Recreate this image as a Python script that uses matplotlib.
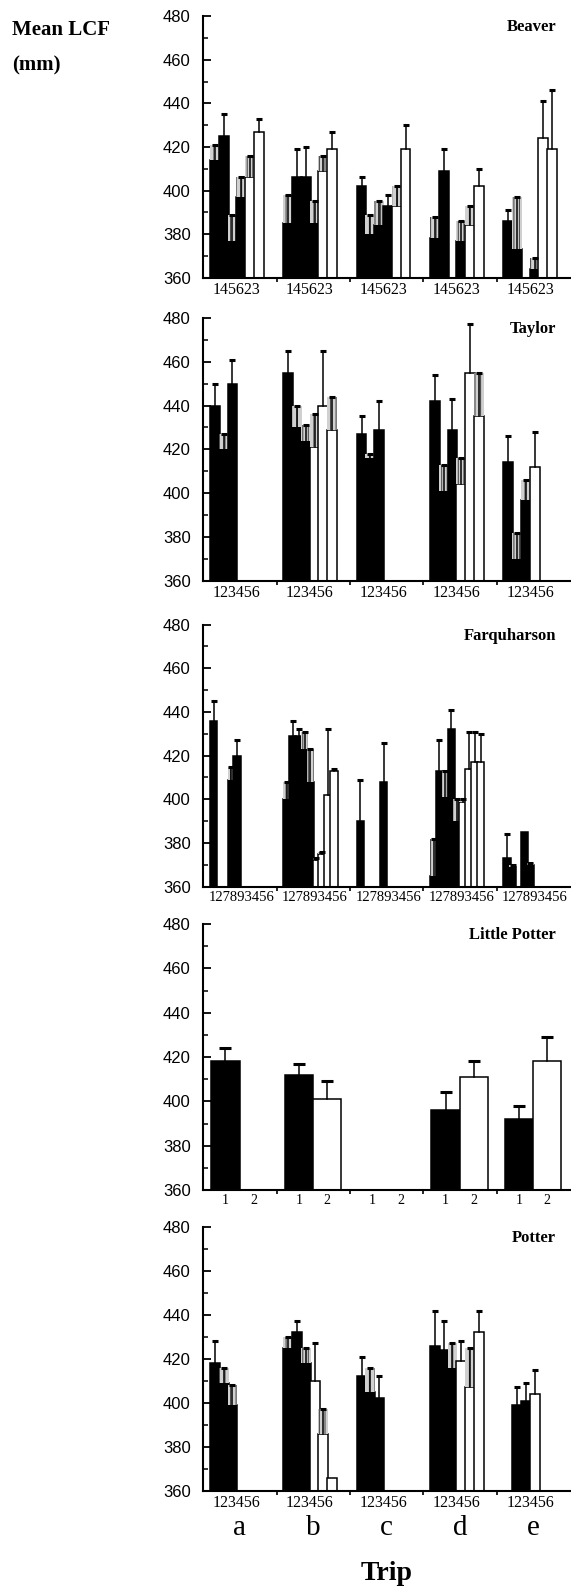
import numpy as np
import matplotlib.pyplot as plt
from matplotlib.ticker import MultipleLocator, FixedLocator
import matplotlib.transforms as mtransforms

trips = ['a', 'b', 'c', 'd', 'e']

# site order and bar fill for each lake
beaver_sites = ['1', '4', '5', '6', '2', '3']
beaver_fill = ['black', 'black', 'black', 'black', 'white', 'white']
beaver_mean = [
    [414, 425, 377, 397, 406, 427],
    [385, 406, 406, 385, 409, 419],
    [402, 380, 384, 393, 393, 419],
    [378, 409, None, 377, 384, 402],
    [386, 373, None, 364, 424, 419],
]
beaver_upper = [
    [421, 435, 389, 406, 416, 433],
    [398, 419, 420, 395, 416, 427],
    [406, 389, 395, 398, 402, 430],
    [388, 419, None, 386, 393, 410],
    [391, 397, None, 369, 441, 446],
]

taylor_sites = ['1', '2', '3', '4', '5', '6']
taylor_fill = ['black', 'black', 'black', 'white', 'white', 'white']
taylor_mean = [
    [440, 420, 450, None, None, None],
    [455, 430, 424, 421, 440, 429],
    [427, 416, 429, None, None, None],
    [442, 401, 429, 404, 455, 435],
    [414, 370, 397, 412, None, None],
]
taylor_upper = [
    [450, 427, 461, None, None, None],
    [465, 440, 431, 436, 465, 444],
    [435, 418, 442, None, None, None],
    [454, 413, 443, 416, 477, 455],
    [426, 382, 406, 428, None, None],
]

farq_sites = ['1', '2', '7', '8', '9', '3', '4', '5', '6']
farq_fill = ['black'] * 5 + ['white'] * 4
farq_mean = [
    [436, None, None, 409, 420, None, None, None, None],
    [400, 429, 429, 423, 408, 372, 375, 402, 413],
    [390, None, None, None, 408, None, None, None, None],
    [365, 413, 401, 432, 390, 399, 414, 417, 417],
    [373, 369, None, 385, 370, None, None, None, None],
]
farq_upper = [
    [445, None, None, 415, 427, None, None, None, None],
    [408, 436, 432, 431, 423, 373, 376, 432, 414],
    [409, None, None, None, 426, None, None, None, None],
    [382, 427, 413, 441, 400, 400, 431, 431, 430],
    [384, 370, None, 385, 371, None, None, None, None],
]

lp_sites = ['1', '2']
lp_fill = ['black', 'white']
lp_mean = [[418, None], [412, 401], [None, None], [396, 411], [392, 418]]
lp_upper = [[424, None], [417, 409], [None, None], [404, 418], [398, 429]]

potter_sites = ['1', '2', '3', '4', '5', '6']
potter_fill = ['black', 'black', 'black', 'white', 'white', 'white']
potter_mean = [
    [418, 409, 399, None, None, None],
    [425, 432, 418, 410, 386, 366],
    [412, 405, 402, None, None, None],
    [426, 424, 416, 419, 407, 432],
    [None, 399, 401, 404, None, None],
]
potter_upper = [
    [428, 416, 408, None, None, None],
    [430, 437, 425, 427, 397, 366],
    [421, 416, 412, None, None, None],
    [442, 437, 427, 428, 425, 442],
    [None, 407, 409, 415, None, None],
]

panels = [
    ('Beaver', beaver_sites, beaver_fill, beaver_mean, beaver_upper),
    ('Taylor', taylor_sites, taylor_fill, taylor_mean, taylor_upper),
    ('Farquharson', farq_sites, farq_fill, farq_mean, farq_upper),
    ('Little Potter', lp_sites, lp_fill, lp_mean, lp_upper),
    ('Potter', potter_sites, potter_fill, potter_mean, potter_upper),
]

# bar placement inside each trip block: offset, spacing, width, label centre, label size, cap size
slot_layout = {
    6: dict(off=0.09, sp=0.12, w=0.135, lab=0.455, fs=11.5, cap=4),
    9: dict(off=0.09, sp=0.08, w=0.10, lab=0.52, fs=10.5, cap=4),
    2: dict(off=0.11, sp=0.385, w=0.385, lab=None, fs=10, cap=9),
}

W, H = 571, 1594
# axes top / bottom in pixels
rows = [(16.2, 277.7), (317.9, 580.7), (624.6, 886.7), (924.0, 1190.0), (1227.0, 1490.7)]
left_px, width_px = 203.3, 366.7

plt.rcParams['font.family'] = 'Liberation Serif'
plt.rcParams['hatch.linewidth'] = 0.8
fig = plt.figure(figsize=(W / 100, H / 100), dpi=100)


def whisker_hidden(row, k, top):
    # True when a neighbouring bar rises past the middle of this bar's whisker
    mid = (row[k] + top) / 2
    for j in (k - 1, k + 1):
        if 0 <= j < len(row) and row[j] is not None and row[j] > mid:
            return True
    return False


axes = []
for (name, sites, fill, mean, upper), (top, bot) in zip(panels, rows):
    ax = fig.add_axes([left_px / W, 1 - bot / H, width_px / W, (bot - top) / H])
    axes.append(ax)
    lay = slot_layout[len(sites)]

    for g in range(len(trips)):
        for k in range(len(sites)):
            m, u = mean[g][k], upper[g][k]
            if m is None:
                continue
            x0 = g + lay['off'] + lay['sp'] * k
            z = 2 + k * 0.01
            ax.bar(x0, m - 360, width=lay['w'], bottom=360, align='edge',
                   color=fill[k], edgecolor='black', linewidth=1.1, zorder=z)
            # whisker squeezed between taller bars prints as a grey hatch
            if u > m and len(sites) > 2 and whisker_hidden(mean[g], k, u):
                ax.bar(x0, u - m, width=lay['w'], bottom=m, align='edge',
                       color='#d0d0d0', edgecolor='#505050', hatch='|||',
                       linewidth=0, zorder=z + 0.005)
    for g in range(len(trips)):
        for k in range(len(sites)):
            m, u = mean[g][k], upper[g][k]
            if m is None or u <= m:
                continue
            xc = g + lay['off'] + lay['sp'] * k + lay['w'] / 2
            ax.plot([xc, xc], [m, u], color='black', lw=1.1, zorder=4)
            ax.plot(xc, u, marker='_', ms=lay['cap'], mew=2.2, color='black', zorder=4)

    ax.set_xlim(0, 5)
    ax.set_ylim(360, 480)
    for s in ['top', 'right']:
        ax.spines[s].set_visible(False)
    for s in ['left', 'bottom']:
        ax.spines[s].set_linewidth(1.5)

    ax.yaxis.set_major_locator(MultipleLocator(20))
    ax.yaxis.set_minor_locator(MultipleLocator(10))
    ax.tick_params(axis='y', which='major', direction='in', length=6, width=1.3, pad=9,
                   labelsize=12)
    ax.tick_params(axis='y', which='minor', direction='in', length=3.5, width=1.1)
    for lbl in ax.get_yticklabels():
        lbl.set_family('Liberation Sans')

    # site labels under each block of bars
    if lay['lab'] is None:
        pos = [g + lay['off'] + lay['sp'] * k + lay['w'] / 2
               for g in range(len(trips)) for k in range(len(sites))]
        labs = sites * len(trips)
    else:
        pos = [g + lay['lab'] for g in range(len(trips))]
        labs = [''.join(sites)] * len(trips)
    ax.xaxis.set_major_locator(FixedLocator(pos))
    ax.set_xticklabels(labs, fontsize=lay['fs'])
    ax.xaxis.set_minor_locator(FixedLocator([1, 2, 3, 4]))
    ax.tick_params(axis='x', which='major', length=0, pad=3)
    ax.tick_params(axis='x', which='minor', direction='out', length=3, width=1.2)

    ax.text(0.962, 0.958, name, transform=ax.transAxes, ha='right', va='center',
            fontsize=12, fontweight='bold')

bottom_ax = axes[-1]
trans = mtransforms.blended_transform_factory(bottom_ax.transData, fig.transFigure)
for g, t in enumerate(trips):
    bottom_ax.text(g + 0.5, 1 - 1528 / H, t, transform=trans, ha='center', va='center',
                   fontsize=21)
fig.text(387 / W, 1 - 1574 / H, 'Trip', ha='center', va='center', fontsize=20,
         fontweight='bold')

fig.text(12 / W, 1 - 30 / H, 'Mean LCF', ha='left', va='center', fontsize=15,
         fontweight='bold')
fig.text(12 / W, 1 - 65 / H, '(mm)', ha='left', va='center', fontsize=15,
         fontweight='bold')

fig.savefig('out.png', dpi=100)
